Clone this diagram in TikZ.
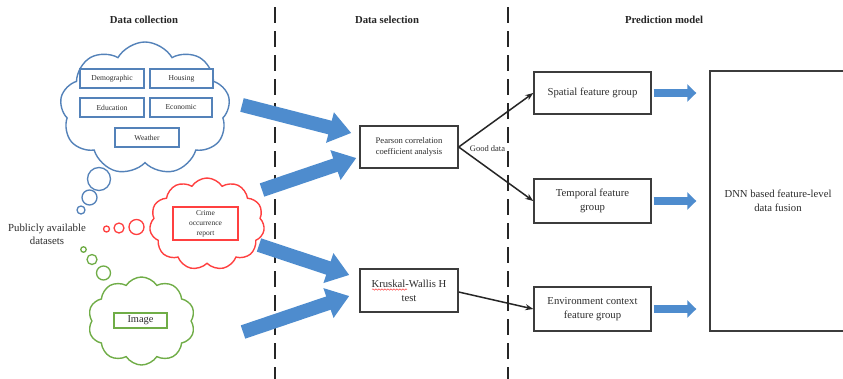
\documentclass[tikz,border=0pt]{standalone}
\usepackage{fontspec}
\setmainfont{Liberation Serif}
\usetikzlibrary{shapes.symbols,arrows.meta,calc,decorations.pathmorphing}
\definecolor{cblue}{RGB}{84,130,185}
\definecolor{ablue}{RGB}{78,140,206}
\definecolor{cred}{RGB}{255,64,64}
\definecolor{cgreen}{RGB}{112,173,71}
\definecolor{bx}{RGB}{60,60,60}
\definecolor{tx}{RGB}{45,45,45}
\newcommand\myfs[2]{\fontsize{#1}{#2}\selectfont}
\begin{document}
\begin{tikzpicture}[x=1pt,y=-1pt,
  title/.style={font=\myfs{10.7}{13}\bfseries, text=black!85},
  divider/.style={draw=black!85, line width=1.5pt, dash pattern=on 16pt off 8pt},
  box/.style={draw=bx, line width=1.4pt, fill=white, text=tx, align=center, inner sep=0pt, font=\myfs{10.7}{14}},
  cbox/.style={draw=#1, line width=1.3pt, fill=white, text=tx, align=center, inner sep=0pt, font=\myfs{7.6}{10}},
  cloudshape/.style={cloud, cloud ignores aspect, cloud puffs=11, cloud puff arc=115, draw=#1, line width=1.4pt, fill=white, inner sep=0pt},
  bubble/.style={circle, draw=#1, line width=1.3pt, fill=white, inner sep=0pt},
  bigarr/.style={draw=ablue, line width=14pt, -{Triangle[length=22pt,width=30pt]}},
  smallarr/.style={draw=ablue, line width=8pt, -{Triangle[length=9pt,width=17pt]}},
  thinarr/.style={draw=black!85, line width=1.5pt, -{Stealth[length=8pt,width=6pt]}},
  lbl/.style={text=tx, align=center, inner sep=0pt}
]
\clip (0,0) rectangle (843,378);
\fill[white] (0,0) rectangle (843,378);

% titles
\node[title] (t1) at (144,20) {Data collection};
\node[title] (t2) at (387,20) {Data selection};
\node[title] (t3) at (664,20) {Prediction model};

% dividers
\coordinate (d1t) at (275,7); \coordinate (d1b) at (275,382);
\coordinate (d2t) at (508,7); \coordinate (d2b) at (508,382);
\draw[divider] (d1t) -- (d1b);
\draw[divider] (d2t) -- (d2b);

% blue cloud
\node[cloudshape=cblue, cloud puffs=9, cloud puff arc=120, minimum width=170pt, minimum height=133pt] (bcloud) at (145,108.5) {};
\node[cbox=cblue, minimum width=64pt, minimum height=19pt] (demo) at (112,78.5) {Demographic};
\node[cbox=cblue, minimum width=63pt, minimum height=19pt] (hous) at (181.5,78.5) {Housing};
\node[cbox=cblue, minimum width=64pt, minimum height=19pt] (edu) at (112,107.5) {Education};
\node[cbox=cblue, minimum width=62pt, minimum height=19pt] (eco) at (181,107.5) {Economic};
\node[cbox=cblue, minimum width=64pt, minimum height=19pt] (wea) at (147,137.5) {Weather};
\node[bubble=cblue, minimum size=23pt] (bb1) at (99,179) {};
\node[bubble=cblue, minimum size=15pt] (bb2) at (89.5,197.5) {};
\node[bubble=cblue, minimum size=8pt] (bb3) at (81,210) {};

% red cloud
\node[cloudshape=cred, cloud puffs=11, minimum width=115pt, minimum height=92pt] (rcloud) at (207,224) {};
\node[cbox=cred, minimum width=65pt, minimum height=33pt, font=\myfs{7.5}{10}] (crime) at (205.5,223.5) {Crime\\occurrence\\report};
\node[bubble=cred, minimum size=15pt] (rb1) at (136.5,227) {};
\node[bubble=cred, minimum size=10pt] (rb2) at (119,228) {};
\node[bubble=cred, minimum size=6pt] (rb3) at (106.5,229) {};

% green cloud
\node[cloudshape=cgreen, cloud puffs=10, minimum width=107pt, minimum height=88pt] (gcloud) at (141.5,321) {};
\node[cbox=cgreen, minimum width=53pt, minimum height=15pt, font=\myfs{10.4}{12}] (img) at (140.5,320.5) {Image};
\node[bubble=cgreen, minimum size=14pt] (gb1) at (103.5,273) {};
\node[bubble=cgreen, minimum size=10pt] (gb2) at (92,259.5) {};
\node[bubble=cgreen, minimum size=5.5pt] (gb3) at (83.5,249.5) {};

\node[lbl, font=\myfs{10.8}{13}] (pub) at (47,234) {Publicly available\\datasets};

% selection boxes
\node[box, minimum width=98pt, minimum height=42pt, font=\myfs{8.6}{11}] (pearson) at (409,147) {Pearson correlation\\coefficient analysis};
\node[box, minimum width=98pt, minimum height=43pt] (kruskal) at (409,290.5) {Kruskal-Wallis H\\test};
\coordinate (sq1) at (372,289.5); \coordinate (sq2) at (407,289.5);
\draw[cred, line width=0.5pt, decorate, decoration={snake, amplitude=0.7pt, segment length=3pt}] (sq1) -- (sq2);

% prediction boxes
\node[box, minimum width=117pt, minimum height=42pt] (spatial) at (592.5,93) {Spatial feature group};
\node[box, minimum width=117pt, minimum height=44pt] (temporal) at (592.5,201) {Temporal feature\\group};
\node[box, minimum width=117pt, minimum height=44pt] (env) at (592.5,309) {Environment context\\feature group};
\node[box, minimum width=136pt, minimum height=260pt] (dnn) at (778,201) {DNN based feature-level\\data fusion};

% big blue arrows
\coordinate (a1) at (242,105);
\coordinate (a2) at (262,190);
\coordinate (a3) at (259,245);
\coordinate (a4) at (243,332);
\draw[bigarr] (a1) -- ($(pearson.west)+(-8,-14)$);
\draw[bigarr] (a2) -- ($(pearson.west)+(-3,11)$);
\draw[bigarr] (a3) -- ($(kruskal.west)+(-10,-15.5)$);
\draw[bigarr] (a4) -- ($(kruskal.west)+(-10,5.5)$);

% thin arrows
\draw[thinarr] (pearson.east) -- (spatial.west);
\draw[thinarr] (pearson.east) -- (temporal.west);
\draw[thinarr] ($(kruskal.east)+(0,1.5)$) -- (env.west);
\node[lbl, font=\myfs{8.5}{10}] (good) at (487.5,149) {Good data};

% small blue arrows
\draw[smallarr] ($(spatial.east)+(2,0)$) -- ($(spatial.east -| dnn.west)+(-13,0)$);
\draw[smallarr] ($(temporal.east)+(2,0)$) -- ($(temporal.east -| dnn.west)+(-13,0)$);
\draw[smallarr] ($(env.east)+(2,0)$) -- ($(env.east -| dnn.west)+(-13,0)$);
\end{tikzpicture}
\end{document}
